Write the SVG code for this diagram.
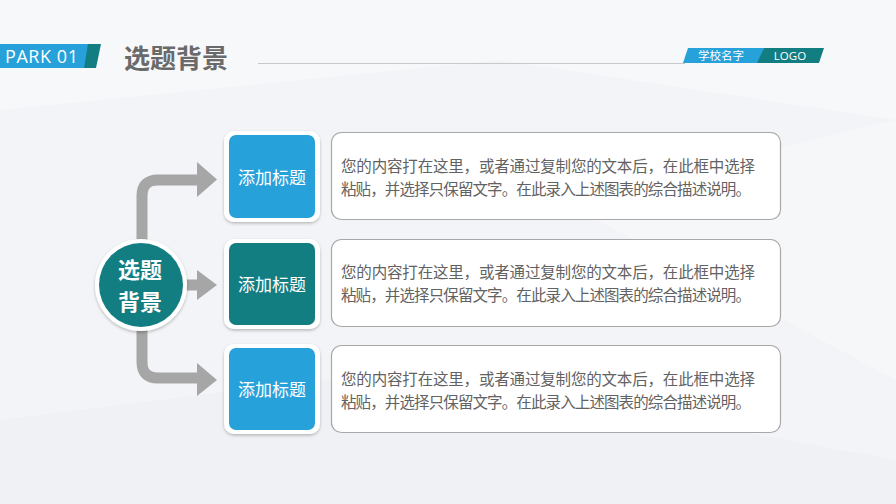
<svg xmlns="http://www.w3.org/2000/svg" width="896" height="504" viewBox="0 0 896 504">
<defs>
<style>
.cn{font-family:"Noto Sans CJK SC","Liberation Sans",sans-serif;}
.tb{fill:#ffffff;stroke:#a8a8a8;stroke-width:1.2;}
.body{font-size:15.5px;fill:#626262;}
.ttl{font-size:17px;fill:#ffffff;}
.outer{fill:#ffffff;}
.arrow{fill:none;stroke:#a6a6a6;stroke-width:11;stroke-linejoin:round;}
.head{fill:#a6a6a6;}
</style>
<filter id="sh" x="-20%" y="-20%" width="140%" height="140%">
<feDropShadow dx="0" dy="1.5" stdDeviation="1.8" flood-color="#000" flood-opacity="0.25"/>
</filter>
</defs>
<rect x="0" y="0" width="896" height="504" fill="#f3f4f7"/>
<polygon points="0,0 896,0 896,120 500,60 0,110" fill="#f7f8fa"/>
<polygon points="0,420 400,370 896,460 896,504 0,504" fill="#f0f1f4"/>
<polygon points="560,200 896,120 896,380" fill="#f6f7f9"/>

<g id="header">
<rect x="0" y="44" width="88" height="24" fill="#27a1d9"/>
<polygon points="88,44 101,44 96,68 84,68" fill="#137e82"/>
<text x="5" y="63" font-family="'Open Sans','Liberation Sans',sans-serif" font-size="18" fill="#ffffff" textLength="73">PARK 01</text>
<text x="124" y="68" class="cn" font-size="26" font-weight="bold" fill="#6a6a6a">选题背景</text>
<line x1="258" y1="63.5" x2="685" y2="63.5" stroke="#c8c8cc" stroke-width="1"/>
<polygon points="688,48 764,48 759,63 683,63" fill="#27a1d9"/>
<polygon points="764,48 824,48 819,63 757,63" fill="#137e82"/>
<text x="721" y="60" class="cn" font-size="11.5" fill="#ffffff" text-anchor="middle">学校名字</text>
<text x="790" y="60" font-family="'Open Sans','Liberation Sans',sans-serif" font-size="11.5" fill="#ffffff" text-anchor="middle">LOGO</text>
</g>

<g id="connectors">
<path class="arrow" d="M142,250 V196 Q142,180 158,180 H200"/>
<polygon class="head" points="197,162 217,179.5 197,197"/>
<path class="arrow" d="M180,285 H200"/>
<polygon class="head" points="197,270 217,285 197,300"/>
<path class="arrow" d="M142,320 V362 Q142,378 158,378 H200"/>
<polygon class="head" points="197,363 217,380 197,396"/>
</g>

<g id="center">
<circle cx="141" cy="285" r="46" fill="#ffffff" filter="url(#sh)"/>
<circle cx="141" cy="285" r="42" fill="#137e82"/>
<text x="140" y="278" class="cn" font-size="22" font-weight="bold" fill="#ffffff" text-anchor="middle">选题</text>
<text x="140" y="310" class="cn" font-size="22" font-weight="bold" fill="#ffffff" text-anchor="middle">背景</text>
</g>

<g id="title1">
<rect class="outer" x="224" y="131" width="96" height="91" rx="10" filter="url(#sh)"/>
<rect x="229" y="135" width="86" height="83" rx="7" fill="#27a1d9"/>
<text x="272" y="184" class="cn ttl" text-anchor="middle">添加标题</text>
</g>
<g id="title2">
<rect class="outer" x="224" y="239" width="96" height="90" rx="10" filter="url(#sh)"/>
<rect x="229" y="243" width="86" height="82" rx="7" fill="#137e82"/>
<text x="272" y="291" class="cn ttl" text-anchor="middle">添加标题</text>
</g>
<g id="title3">
<rect class="outer" x="224" y="344" width="96" height="90" rx="10" filter="url(#sh)"/>
<rect x="229" y="348" width="86" height="82" rx="7" fill="#27a1d9"/>
<text x="272" y="396" class="cn ttl" text-anchor="middle">添加标题</text>
</g>

<g id="text1">
<rect class="tb" x="331.5" y="132.5" width="449" height="87" rx="10"/>
<text x="341" y="172" class="cn body" textLength="414">您的内容打在这里，或者通过复制您的文本后，在此框中选择</text>
<text x="341" y="195" class="cn body" textLength="410">粘贴，并选择只保留文字。在此录入上述图表的综合描述说明。</text>
</g>
<g id="text2">
<rect class="tb" x="331.5" y="239.5" width="449" height="87" rx="10"/>
<text x="341" y="278" class="cn body" textLength="414">您的内容打在这里，或者通过复制您的文本后，在此框中选择</text>
<text x="341" y="301" class="cn body" textLength="410">粘贴，并选择只保留文字。在此录入上述图表的综合描述说明。</text>
</g>
<g id="text3">
<rect class="tb" x="331.5" y="345.5" width="449" height="87" rx="10"/>
<text x="341" y="385" class="cn body" textLength="414">您的内容打在这里，或者通过复制您的文本后，在此框中选择</text>
<text x="341" y="408" class="cn body" textLength="410">粘贴，并选择只保留文字。在此录入上述图表的综合描述说明。</text>
</g>
</svg>
